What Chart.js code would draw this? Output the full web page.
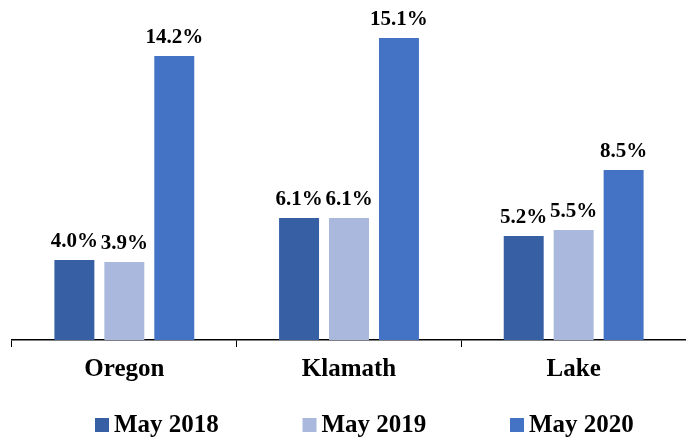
<!DOCTYPE html>
<html>
<head>
<meta charset="utf-8">
<script src="https://cdn.jsdelivr.net/npm/chart.js@4.4.0/dist/chart.umd.min.js"></script>
<style>
  html, body { margin: 0; padding: 0; background: #fff; }
  #wrap { width: 686px; height: 441px; position: relative; }
</style>
</head>
<body>
<div id="wrap"><canvas id="myChart" width="686" height="441"></canvas></div>
<script>
const regions = ["Oregon", "Klamath", "Lake"];
const seriesNames = ["May 2018", "May 2019", "May 2020"];
const may2018 = [4.0, 6.1, 5.2];
const may2019 = [3.9, 6.1, 5.5];
const may2020 = [14.2, 15.1, 8.5];
const barColors = ["#365FA4", "#A9B8DC", "#4472C4"];

const serif = "'Liberation Serif', 'Times New Roman', serif";

// value labels above each bar
const valueLabels = {
    id: "valueLabels",
    afterDatasetsDraw(chart) {
        const ctx = chart.ctx;
        ctx.save();
        ctx.font = "bold 21px " + serif;
        ctx.fillStyle = "#000";
        ctx.textAlign = "center";
        ctx.textBaseline = "alphabetic";
        chart.data.datasets.forEach((ds, i) => {
            chart.getDatasetMeta(i).data.forEach((bar, j) => {
                ctx.fillText(ds.data[j].toFixed(1) + "%", bar.x, bar.y - 13);
            });
        });
        ctx.restore();
    }
};

// legend along the bottom, spaced like the original
const bottomLegend = {
    id: "bottomLegend",
    afterDraw(chart) {
        const ctx = chart.ctx;
        ctx.save();
        ctx.font = "bold 25px " + serif;
        ctx.textBaseline = "middle";
        ctx.textAlign = "left";
        const y = 425;
        chart.data.datasets.forEach((ds, i) => {
            const x = 95 + i * 207.5;
            ctx.fillStyle = ds.backgroundColor;
            ctx.fillRect(x, y - 7, 14, 14);
            ctx.fillStyle = "#000";
            ctx.fillText(ds.label, x + 19, y + 1);
        });
        ctx.restore();
    }
};

new Chart("myChart", {
    type: "bar",
    data: {
        labels: regions,
        datasets: [
            { label: seriesNames[0], data: may2018, backgroundColor: barColors[0] },
            { label: seriesNames[1], data: may2019, backgroundColor: barColors[1] },
            { label: seriesNames[2], data: may2020, backgroundColor: barColors[2] }
        ]
    },
    options: {
        responsive: false,
        animation: false,
        categoryPercentage: 0.667,
        barPercentage: 0.8,
        layout: { padding: { left: 12, right: 0, top: 20, bottom: 48 } },
        plugins: {
            legend: { display: false },
            tooltip: { enabled: false }
        },
        scales: {
            y: {
                display: false,
                min: 0,
                max: 16
            },
            x: {
                grid: {
                    drawOnChartArea: false,
                    drawTicks: true,
                    tickLength: 7,
                    color: "#000",
                    offset: true
                },
                border: { color: "#000", width: 1.5 },
                ticks: {
                    color: "#000",
                    padding: 8,
                    font: { family: serif, size: 25, weight: "bold" }
                }
            }
        }
    },
    plugins: [valueLabels, bottomLegend]
});
</script>
</body>
</html>
